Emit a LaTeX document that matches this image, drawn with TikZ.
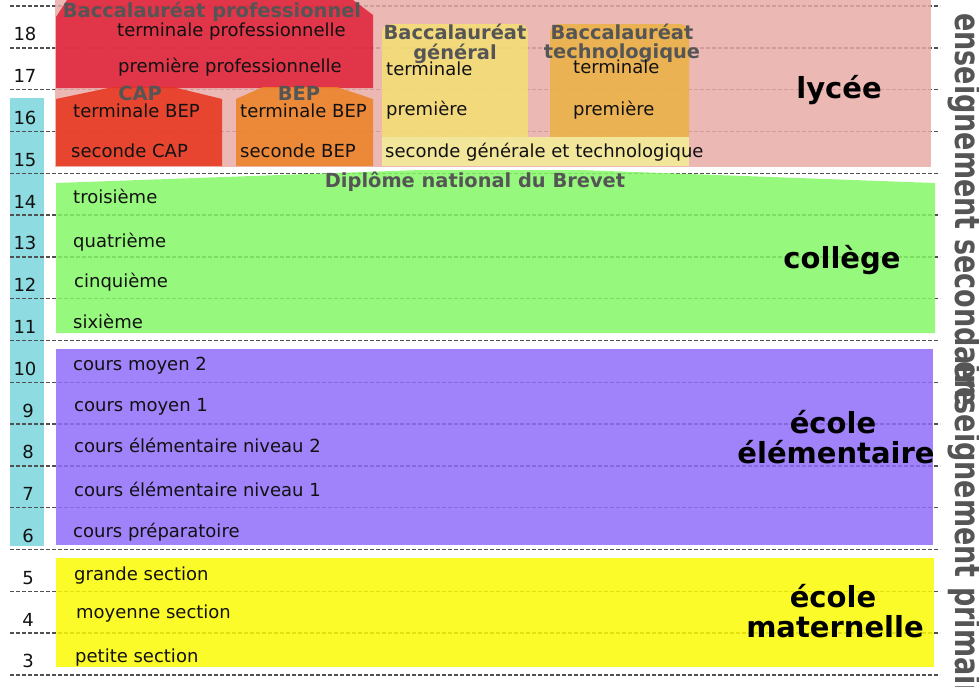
\documentclass[tikz,border=0pt]{standalone}
\usepackage{fontspec}
\setmainfont{DejaVu Sans}
\usepackage{graphicx}
\definecolor{cyanbar}{RGB}{142,220,225}
\definecolor{gridc}{RGB}{80,80,80}
\definecolor{pinkL}{RGB}{231,171,167}
\definecolor{redP}{RGB}{224,31,55}
\definecolor{capC}{RGB}{231,50,25}
\definecolor{bepC}{RGB}{237,129,36}
\definecolor{genC}{RGB}{244,223,115}
\definecolor{techC}{RGB}{236,177,67}
\definecolor{secC}{RGB}{244,238,151}
\definecolor{greenC}{RGB}{133,247,103}
\definecolor{purpC}{RGB}{143,108,249}
\definecolor{yellC}{RGB}{252,250,5}
\definecolor{titleC}{RGB}{85,85,85}
\definecolor{txtC}{RGB}{17,17,17}
\tikzset{
  gridline/.style={draw=gridc, line width=1.4pt, dash pattern=on 4pt off 2pt},
  region/.style={fill opacity=0.85, draw=none},
  rowtxt/.style={anchor=base west, inner sep=0pt, text=txtC, font=\fontsize{18}{21}\selectfont},
  agenum/.style={anchor=base, inner sep=0pt, text=txtC, font=\fontsize{18}{21}\selectfont},
  ttl/.style={anchor=base, inner sep=0pt, text=titleC, font=\bfseries\fontsize{19.4}{19.4}\selectfont},
  bigl/.style={anchor=base, inner sep=0pt, text=black, font=\bfseries\fontsize{29}{30}\selectfont},
  sidetxt/.style={anchor=base west, inner sep=0pt, rotate=-90, text=titleC, font=\bfseries\fontsize{27}{27}\selectfont}
}
\begin{document}
\begin{tikzpicture}[x=1pt,y=-1pt]
\useasboundingbox (0,0) rectangle (979,686);
% cyan age bar
\fill[cyanbar] (10,98) rectangle (44,546);
% dashed grid
\foreach \k in {0,...,16}{
  \draw[gridline] (10,{6+41.8*\k}) -- (940,{6+41.8*\k});
}
% lycee
\fill[region, pinkL] (55,0) rectangle (931,167);
\fill[region, redP] (56,88) -- (56,17) -- (67,0) -- (353,0) -- (373,15) -- (373,88) -- cycle;
\fill[region, capC] (56,166) -- (56,99) -- (113,87) -- (173,87) -- (222,99) -- (222,166) -- cycle;
\fill[region, bepC] (236,166) -- (236,99) -- (263,87) -- (337,87) -- (373,99) -- (373,166) -- cycle;
\fill[region, genC] (382,137) [rounded corners=9pt] -- (382,24) -- (528,24) [sharp corners] -- (528,137) -- cycle;
\fill[region, techC] (550,137) [rounded corners=9pt] -- (550,24) -- (689,24) [sharp corners] -- (689,137) -- cycle;
\fill[region, secC] (382,137) rectangle (689,166);
% college
\fill[region, greenC] (56,183) -- (420,170) -- (580,170) -- (935,183) -- (935,333) -- (56,333) -- cycle;
% elementaire
\fill[region, purpC] (56,349) rectangle (933,545);
% maternelle
\fill[region, yellC] (56,558) rectangle (934,667);
% ages
\foreach \a in {3,...,18}{
  \pgfmathsetmacro\yb{6+41.8*(19-\a)-7}
  \pgfmathsetmacro\xa{ifthenelse(\a<10,28,25)}
  \node[agenum] (age\a) at (\xa,\yb) {\a};
}
% titles
\node[ttl] (tbacpro) at (212,17) {Baccalauréat professionnel};
\node[ttl] (tcap) at (140,100) {CAP};
\node[ttl] (tbep) at (299,100) {BEP};
\node[ttl] (tgen1) at (455,39) {Baccalauréat};
\node[ttl] (tgen2) at (455,59) {général};
\node[ttl] (ttech1) at (622,39) {Baccalauréat};
\node[ttl] (ttech2) at (622,58) {technologique};
\node[ttl] (tdnb) at (475,187) {Diplôme national du Brevet};
% lycee rows
\node[rowtxt] (termpro) at (117,36) {terminale professionnelle};
\node[rowtxt] (prempro) at (118,72) {première professionnelle};
\node[rowtxt] (termcap) at (73,117) {terminale BEP};
\node[rowtxt] (seccap) at (71,157) {seconde CAP};
\node[rowtxt] (termbep) at (240,117) {terminale BEP};
\node[rowtxt] (secbep) at (240,157) {seconde BEP};
\node[rowtxt] (termgen) at (386,75) {terminale};
\node[rowtxt] (premgen) at (386,115) {première};
\node[rowtxt] (termtech) at (573,73) {terminale};
\node[rowtxt] (premtech) at (573,115) {première};
\node[rowtxt] (secgt) at (385,157) {seconde générale et technologique};
% college rows
\node[rowtxt] (troisieme) at (73,203) {troisième};
\node[rowtxt] (quatrieme) at (73,247) {quatrième};
\node[rowtxt] (cinquieme) at (74,287) {cinquième};
\node[rowtxt] (sixieme) at (73,328) {sixième};
% elementaire rows
\node[rowtxt] (cm2) at (73,370) {cours moyen 2};
\node[rowtxt] (cm1) at (74,411) {cours moyen 1};
\node[rowtxt] (ce2) at (74,452) {cours élémentaire niveau 2};
\node[rowtxt] (ce1) at (74,496) {cours élémentaire niveau 1};
\node[rowtxt] (cp) at (73,537) {cours préparatoire};
% maternelle rows
\node[rowtxt] (gs) at (74,580) {grande section};
\node[rowtxt] (ms) at (76,618) {moyenne section};
\node[rowtxt] (ps) at (75,662) {petite section};
% big labels
\node[bigl] (lycee) at (839,98) {lycée};
\node[bigl] (college) at (842,268) {collège};
\node[bigl] (ecole1) at (833,433) {école};
\node[bigl] (ecole2) at (836,463) {élémentaire};
\node[bigl] (mat1) at (833,607) {école};
\node[bigl] (mat2) at (835,637) {maternelle};
% side labels
\node[sidetxt] (secondaire) at (955,13) {\scalebox{1}[1.3]{enseignement secondaire}};
\node[sidetxt] (primaire) at (955,361) {\scalebox{1}[1.3]{enseignement primaire}};
\end{tikzpicture}
\end{document}
